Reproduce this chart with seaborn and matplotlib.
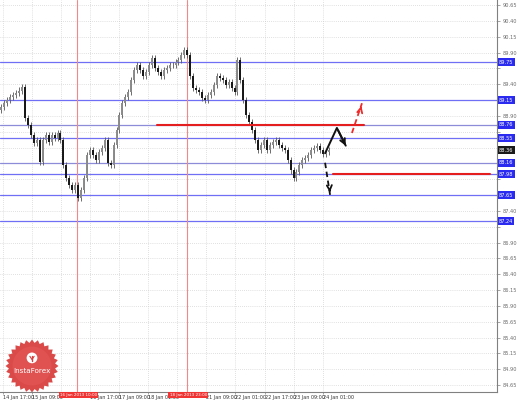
import numpy as np
import pandas as pd
import matplotlib
matplotlib.use("Agg")
import matplotlib.pyplot as plt
import matplotlib.transforms as mtransforms
from matplotlib.patches import Polygon, Circle
import seaborn as sns


# 1. Data (USD/JPY style, hourly-ish bars)
first_open = 89.00
closes = [
    89.04, 89.10, 89.15, 89.20, 89.23, 89.26, 89.30, 89.36, 88.87, 88.76,
    88.60, 88.47, 88.52, 88.17, 88.52, 88.60, 88.49, 88.60, 88.55, 88.63,
    88.52, 88.12, 87.92, 87.81, 87.73, 87.81, 87.60, 87.73, 87.92, 88.28,
    88.36, 88.28, 88.20, 88.33, 88.39, 88.52, 88.16, 88.12, 88.44, 88.68,
    88.91, 89.10, 89.20, 89.28, 89.47, 89.62, 89.70, 89.62, 89.53, 89.59,
    89.70, 89.81, 89.66, 89.59, 89.53, 89.62, 89.66, 89.70, 89.70, 89.75,
    89.78, 89.86, 89.94, 89.86, 89.53, 89.34, 89.31, 89.28, 89.18, 89.15,
    89.23, 89.28, 89.39, 89.53, 89.50, 89.47, 89.39, 89.44, 89.34, 89.28,
    89.78, 89.47, 89.15, 88.91, 88.80, 88.68, 88.52, 88.36, 88.44, 88.52,
    88.36, 88.44, 88.49, 88.52, 88.44, 88.39, 88.36, 88.20, 88.04, 87.92,
    88.01, 88.12, 88.20, 88.24, 88.28, 88.36, 88.39, 88.42, 88.36, 88.30,
    88.33, 88.36,
]

# horizontal levels (blue) and the current price label
levels = [89.75, 89.15, 88.76, 88.55, 88.16, 87.98, 87.65, 87.24]
current_price = 88.36

# red key levels: (price, start bar, end bar)
red_levels = [(88.76, 52.7, 122.9), (87.98, 112.4, 165.6)]

# vertical red session lines and their labels
vlines_x = [25.6, 62.9]
vlines_lab = ["16 Jan 2013 10:00", "18 Jan 2013 23:00"]

# forecast paths
path_main_x = [109.7, 113.7, 117.1]
path_main_y = [88.31, 88.71, 88.39]
path_up_x = [118.8, 122.2]
path_up_y = [88.63, 89.10]
path_down_x = [109.7, 111.4]
path_down_y = [88.16, 87.65]

# time labels; the two under the red date boxes are hidden (blank)
x_labels = ["14 Jan 17:00", "15 Jan 09:00", "", "16 Jan 17:00",
            "17 Jan 09:00", "18 Jan 01:00", "", "21 Jan 09:00",
            "22 Jan 01:00", "22 Jan 17:00", "23 Jan 09:00", "24 Jan 01:00"]
y_ticks = np.arange(84.65, 90.66, 0.25)


# 2. Figure
sns.set_theme(style="white")
plt.rcParams['font.family'] = ['DejaVu Sans']

fig = plt.figure(figsize=(5.18, 4.0), dpi=100)
ax = fig.add_axes([0.0, 0.02, 497 / 518, 0.98])

ppb = 2.95  # pixels per bar
xmax = 497 / ppb - 0.5
ax.set_xlim(-0.5, xmax)
ax.set_ylim(84.54, 90.73)

xt = [(2.7 + 29.1 * k) / ppb - 0.5 for k in range(len(x_labels))]

# grid
for x in xt:
    ax.axvline(x, color='#c4c4c4', lw=0.5, ls=(0, (1, 2)), zorder=0)
for y in y_ticks:
    ax.axhline(y, color='#c4c4c4', lw=0.5, ls=(0, (1, 2)), zorder=0)

# levels
for i, lv in enumerate(levels):
    col = '#8c8cd8' if i in (2, 4) else '#6f6ff5'
    ax.axhline(lv, color=col, lw=0.9, zorder=1)

for x in vlines_x:
    ax.axvline(x, color='#f08a8a', lw=0.8, zorder=1)

# candles
opens = [first_open] + closes[:-1]
bars = pd.DataFrame({'bar': np.arange(len(closes)), 'open': opens, 'close': closes})
bars['lo'] = bars[['open', 'close']].min(axis=1)
bars['hi'] = bars[['open', 'close']].max(axis=1)
up = bars[bars['close'] >= bars['open']]
dn = bars[bars['close'] < bars['open']]
ax.vlines(bars['bar'], bars['lo'] - 0.05, bars['hi'] + 0.05, color='#555555', lw=0.6, zorder=2)
ax.vlines(up['bar'], up['lo'], up['hi'], color='#8a8a8a', lw=1.4, zorder=3)
ax.vlines(dn['bar'], dn['lo'], dn['hi'], color='#151515', lw=1.4, zorder=3)

# red key levels
for p, x0, x1 in red_levels:
    ax.plot([x0, x1], [p, p], color='#e41e1e', lw=1.5, zorder=4)

# forecast paths
sns.lineplot(x=path_main_x[:-1] + [path_main_x[-1] - 0.4], y=path_main_y[:-1] + [path_main_y[-1] + 0.04],
             ax=ax, color='#111111', lw=1.4, zorder=5)
ax.annotate('', xy=(path_main_x[-1], path_main_y[-1]), xytext=(path_main_x[-2], path_main_y[-2]),
            arrowprops=dict(arrowstyle='->', color='#111111', lw=1.4, mutation_scale=9), zorder=5)
sns.lineplot(x=path_up_x, y=path_up_y, ax=ax, color='#ee2a2a', lw=1.3, ls=(0, (3, 2)), zorder=5)
ax.annotate('', xy=(path_up_x[-1], path_up_y[-1]), xytext=(path_up_x[-1] - 0.6, path_up_y[-1] - 0.12),
            arrowprops=dict(arrowstyle='->', color='#ee2a2a', lw=1.3, mutation_scale=9), zorder=5)
sns.lineplot(x=path_down_x, y=path_down_y, ax=ax, color='#111111', lw=1.3, ls=(0, (3, 2)), zorder=5)
ax.annotate('', xy=(path_down_x[-1], path_down_y[-1]), xytext=(path_down_x[-1] - 0.2, path_down_y[-1] + 0.12),
            arrowprops=dict(arrowstyle='->', color='#111111', lw=1.3, mutation_scale=9), zorder=5)

# axes styling
for s in ['top', 'left']:
    ax.spines[s].set_visible(False)
ax.spines['right'].set_color('#808080')
ax.spines['bottom'].set_color('#808080')
ax.spines['right'].set_linewidth(0.8)
ax.spines['bottom'].set_linewidth(0.8)
ax.yaxis.tick_right()
ax.set_yticks(y_ticks)
# tick labels hidden behind the boxed price labels are left blank
boxed = levels + [current_price]
ylabs = []
for v in y_ticks:
    if min(abs(v - b) for b in boxed) < 0.11:
        ylabs.append("")
    else:
        ylabs.append(f"{v:.2f}")
ax.set_yticklabels(ylabs)
ax.tick_params(axis='y', which='both', right=True, length=2, width=0.5, pad=2,
               labelsize=3.6, labelcolor='#6a6a6a', color='#808080')
ax.set_xticks(xt)
ax.set_xticklabels(x_labels)
ax.tick_params(axis='x', bottom=True, length=1.5, width=0.5, pad=1,
               labelsize=3.5, labelcolor='#333333', color='#808080')
for lab in ax.get_xticklabels():
    lab.set_horizontalalignment('left')

# boxed price labels on the right axis
ytr = mtransforms.blended_transform_factory(ax.transAxes, ax.transData)
for lv in levels:
    ax.text(1.004, lv, f"{lv:.2f}", transform=ytr, ha='left', va='center', fontsize=3.6,
            color='white', clip_on=False, zorder=10,
            bbox=dict(boxstyle='square,pad=0.25', fc='#2a2af0', ec='none'))
ax.text(1.004, current_price, f"{current_price:.2f}", transform=ytr, ha='left', va='center',
        fontsize=3.6, color='white', clip_on=False, zorder=10,
        bbox=dict(boxstyle='square,pad=0.25', fc='#1a1a1a', ec='none'))

# red date boxes on the time axis
xtr = mtransforms.blended_transform_factory(ax.transData, ax.transAxes)
for x, lab in zip(vlines_x, vlines_lab):
    ax.text(x + 0.4, -0.0085, lab, transform=xtr, ha='center', va='center', fontsize=3.0,
            color='white', clip_on=False, zorder=10,
            bbox=dict(boxstyle='square,pad=0.25', fc='#f03434', ec='none'))

# InstaForex badge
lax = fig.add_axes([(32 - 27) / 518, (400 - 366 - 27) / 400, 54 / 518, 54 / 400])
lax.set_xlim(-1, 1)
lax.set_ylim(-1, 1)
lax.axis('off')
n = 28
ang = np.linspace(0, 2 * np.pi, 2 * n, endpoint=False) + np.pi / 2
rad = np.where(np.arange(2 * n) % 2 == 0, 0.98, 0.86)
lax.add_patch(Polygon(np.c_[rad * np.cos(ang), rad * np.sin(ang)], closed=True,
                      fc='#d8403f', ec='none', alpha=0.95))
lax.add_patch(Circle((0, 0), 0.72, fc='#e05251', ec='none'))
lax.add_patch(Circle((0, 0.3), 0.2, fc='white', ec='none'))
lax.plot([0, 0], [0.18, 0.38], color='#d8403f', lw=1.0)
lax.plot([-0.08, 0, 0.08], [0.36, 0.24, 0.36], color='#d8403f', lw=0.8)
lax.text(0, -0.2, "InstaForex", ha='center', va='center', fontsize=5.2, color='white')

fig.savefig("out.png", dpi=100)
